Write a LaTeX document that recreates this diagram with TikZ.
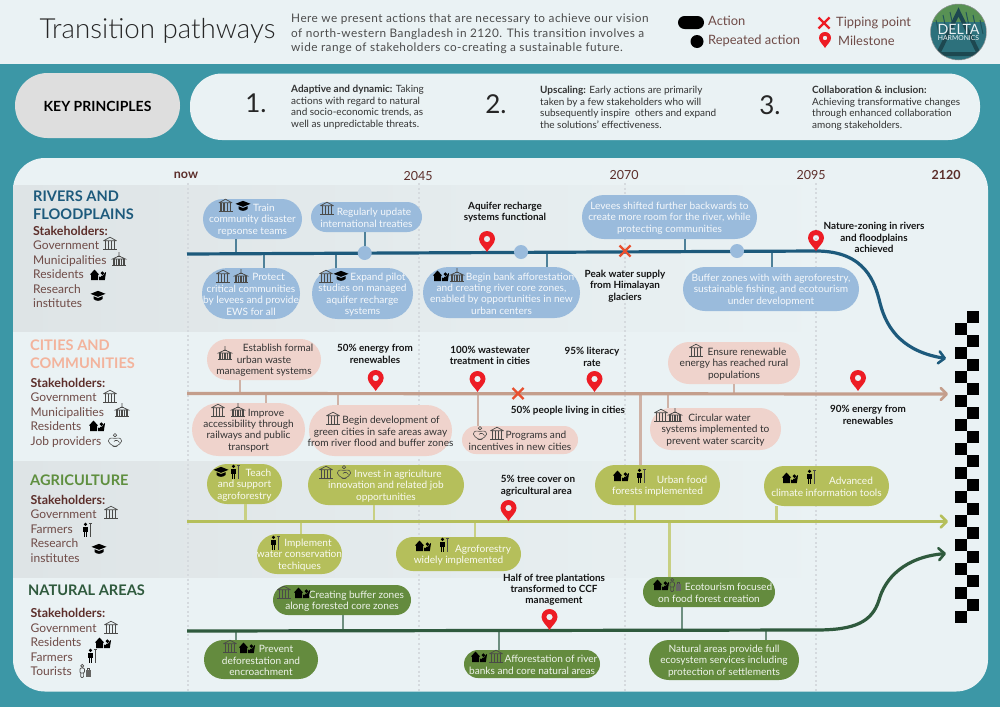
\documentclass[tikz,border=0pt]{standalone}
\usepackage{fontspec}
\setmainfont{Lato}
\newfontfamily\titlefont{Lato Light}
\usetikzlibrary{arrows.meta,calc}
\definecolor{panel}{HTML}{EAF2F4}
\definecolor{teal}{HTML}{3C97A6}
\definecolor{band}{HTML}{DEE4E6}
\definecolor{keygrey}{HTML}{DEDEDE}
\definecolor{brownd}{HTML}{5C2E2A}
\definecolor{brownl}{HTML}{6F4B47}
\definecolor{riverc}{HTML}{1D5A7C}
\definecolor{rivers}{HTML}{4F8199}
\definecolor{riverp}{HTML}{9ABBDC}
\definecolor{cityc}{HTML}{C49E8C}
\definecolor{citys}{HTML}{CFB2A6}
\definecolor{cityp}{HTML}{EFD3CC}
\definecolor{cityh}{HTML}{F3B39C}
\definecolor{agric}{HTML}{B5BF5B}
\definecolor{agris}{HTML}{C8D083}
\definecolor{agrih}{HTML}{5F8F3F}
\definecolor{natc}{HTML}{2F5A3D}
\definecolor{nats}{HTML}{6E8F80}
\definecolor{natp}{HTML}{648B3E}
\definecolor{pinred}{HTML}{ED1C24}
\definecolor{crossc}{HTML}{E8502F}
\definecolor{dotc}{HTML}{D5DADE}
\definecolor{icong}{HTML}{4A4A48}
\newcommand\pillnode[7]{%
  \pgfmathsetmacro\pillw{#3-#2}\pgfmathsetmacro\pillh{#5-#4}\pgfmathsetmacro\pillr{(#5-#4)/2}%
  \node[#6,minimum width=\pillw pt,minimum height=\pillh pt,rounded corners=\pillr pt] (#1) at ({(#2+#3)/2},{(#4+#5)/2}) {};
  \node[#6,fill=none,yshift=-1pt] (#1t) at (#1.center) {#7};}
\newcommand\ind[1]{\hspace*{#1pt}}
\tikzset{
  pillbase/.style={rectangle,inner sep=0pt,align=center,font=\fontsize{10.1}{11.4}\selectfont},
  rpill/.style={pillbase,fill=riverp,text=white!90!riverp},
  cpill/.style={pillbase,fill=cityp,text=black!80},
  apill/.style={pillbase,fill=agric,text=white!92!agric},
  npill/.style={pillbase,fill=natp,text=white!90!natp},
  rstem/.style={draw=rivers,line width=2.4pt},
  cstem/.style={draw=citys,line width=2.4pt},
  astem/.style={draw=agris,line width=2.4pt},
  nstem/.style={draw=nats,line width=2.4pt},
  mainline/.style={line width=3.2pt},
  chev/.style={-{Straight Barb[length=6pt,width=12pt,line width=2.6pt,round]}},
  repeatdot/.style={circle,fill=riverp,minimum size=14pt,inner sep=0pt},
  ytick/.style={font=\fontsize{12.5}{14}\selectfont,text=brownd},
  ybold/.style={font=\fontsize{12.5}{14}\bfseries\selectfont,text=brownd},
  gridline/.style={draw=dotc,line width=2pt,dash pattern=on 2pt off 2.6pt},
  mlabel/.style={font=\fontsize{9.9}{11.4}\bfseries\selectfont,align=center,text=black!92,inner sep=0pt,yshift=-.7pt},
  head/.style={anchor=mid west,font=\fontsize{14.6}{18}\bfseries\selectfont,inner sep=0pt,yshift=-3.5pt},
  shead/.style={anchor=mid west,font=\fontsize{12.4}{14}\bfseries\selectfont,text=brownd,inner sep=0pt,yshift=-2pt},
  sitem/.style={anchor=mid west,font=\fontsize{12}{14}\selectfont,text=brownl,inner sep=0pt,yshift=-2pt},
  ptext/.style={anchor=north west,align=left,inner sep=0pt,font=\fontsize{10}{11.4}\selectfont,text=black!80,yshift=-.8pt},
  pnum/.style={font=\fontsize{26}{28}\selectfont,text=black!85,inner sep=0pt},
  legendt/.style={anchor=mid west,font=\fontsize{12.9}{14}\selectfont,text=brownl,inner sep=0pt,yshift=-1.5pt},
  pin/.pic={\fill[pinred,even odd rule] (0,0) .. controls (-2,-4) and (-8,-8) .. (-8,-13) .. controls (-8,-17.5) and (-4.4,-21) .. (0,-21) .. controls (4.4,-21) and (8,-17.5) .. (8,-13) .. controls (8,-8) and (2,-4) .. (0,0) -- cycle (0,-13) circle (3.2);},
  smallpin/.pic={\fill[pinred,even odd rule] (0,0) .. controls (-1.5,-3) and (-6,-6) .. (-6,-10) .. controls (-6,-13.5) and (-3.3,-16) .. (0,-16) .. controls (3.3,-16) and (6,-13.5) .. (6,-10) .. controls (6,-6) and (1.5,-3) .. (0,0) -- cycle (0,-10) circle (2.3);},
  xmark/.pic={\draw[crossc,line width=2.3pt] (-5.5,-5.5) -- (5.5,5.5) (-5.5,5.5) -- (5.5,-5.5);},
  redx/.pic={\draw[pinred,line width=2.4pt] (-5.5,-5.5) -- (5.5,5.5) (-5.5,5.5) -- (5.5,-5.5);},
  gov/.pic={\draw[icong,line width=.7pt,line join=round] (-6.5,-3.2) -- (0,-6.8) -- (6.5,-3.2) -- cycle;
    \draw[icong,line width=1.2pt] (-4.6,-2.6) -- (-4.6,4.6) (-1.6,-2.6) -- (-1.6,4.6) (1.6,-2.6) -- (1.6,4.6) (4.6,-2.6) -- (4.6,4.6);
    \draw[icong,line width=1pt] (-7,5.6) -- (7,5.6);},
  muni/.pic={\draw[icong,line width=.7pt] (-6.5,-1) -- (0,-4) -- (6.5,-1) -- cycle (0,-4) -- (0,-8);
    \fill[icong] (-2,-4.5) rectangle (2,-3);
    \draw[icong,line width=1.1pt] (-5,-.6) -- (-5,4.6) (-2.5,-.6) -- (-2.5,4.6) (0,-.6) -- (0,4.6) (2.5,-.6) -- (2.5,4.6) (5,-.6) -- (5,4.6);
    \draw[icong,line width=1.2pt] (-7,5.6) -- (7,5.6);},
  cap/.pic={\fill[black] (-7.5,-2.2) -- (0,-5.2) -- (7.5,-2.2) -- (0,.8) -- cycle;
    \fill[black] (-4.5,.2) -- (0,2) -- (4.5,.2) -- (4.5,3) .. controls (2,5.4) and (-2,5.4) .. (-4.5,3) -- cycle;},
  res/.pic={\fill[black] (-8,-.5) -- (-3.5,-5.5) -- (1,-.5) -- (0,-.5) -- (0,5) -- (-7,5) -- (-7,-.5) -- cycle;
    \fill[black] (4.4,-1.8) circle (1.9);
    \fill[black] (1,5) -- (1,1.5) -- (2.5,2.2) -- (3.6,.6) -- (5,.6) -- (7.5,-3) -- (8,-2.4) -- (6.8,5) -- cycle;},
  farmer/.pic={\fill[black] (-1.5,-5.6) circle (1.7);
    \fill[black] (-4.4,-3.4) rectangle (1.4,1.6);\fill[black] (-3.4,1.6) rectangle (-1.8,7.4);\fill[black] (-1.2,1.6) rectangle (.4,7.4);
    \draw[icong,line width=.8pt] (3.6,-7) -- (3.6,7.4) (1.8,-7) -- (5.4,-7);},
  hand/.pic={\draw[icong,line width=.6pt,rounded corners=1.5pt] (-7,-1.5) -- (-3,-3.5) -- (0,-2) -- (3,-3.5) -- (7,-1.5) -- (6,2) -- (1,5.5) -- (-1,5.5) -- (-6,2) -- cycle (-1,.5) -- (1.5,-1.5) -- (4.5,1.5);
    \draw[icong,line width=.6pt] (0,-5.8) circle (1.7);},
  tourist/.pic={\draw[icong,line width=.7pt] (-2.8,-5.2) circle (1.5);
    \draw[icong,line width=.7pt,rounded corners=1pt] (-5,-3) rectangle (-.6,2) (-4.2,2) -- (-4.2,6.6) -- (-1.4,6.6) -- (-1.4,2);
    \fill[icong!85] (1,-.8) rectangle (6,6.4);\draw[icong,line width=.6pt] (2.5,-.8) -- (2.5,-2.4) -- (4.5,-2.4) -- (4.5,-.8);},
}
\begin{document}
\begin{tikzpicture}[x=1pt,y=-1pt]
\useasboundingbox (0,0) rectangle (1000,707);
% ---- backgrounds
\fill[panel] (0,0) rectangle (1000,64);
\fill[teal] (0,64) rectangle (1000,707);
\fill[panel,rounded corners=32pt] (13,158) rectangle (988,691.5);
\shade[left color=band,right color=panel] (13,185) rectangle (830,331.5);
\shade[left color=band,right color=panel] (13,461.5) rectangle (830,577);
% ---- header
\node[font=\titlefont\fontsize{27.7}{32}\selectfont,text=black!85,inner sep=0pt] (title) at (157.5,30.5) {Transition pathways};
\node[anchor=north west,align=left,inner sep=0pt,font=\addfontfeatures{LetterSpace=4}\fontsize{11.8}{14.5}\selectfont,text=black!70] (intro) at (291,14) {Here we present actions that are necessary to achieve our vision\\of north-western Bangladesh in 2120. This transition involves a\\wide range of stakeholders co-creating a sustainable future.};
\node[fill=black,minimum width=26pt,minimum height=13pt,rounded corners=6.5pt,inner sep=0pt] (lga) at (691,22.5) {};
\node[legendt] (lgat) at (708,21.5) {Action};
\node[circle,fill=black,minimum size=13pt,inner sep=0pt] (lgr) at (697,41.5) {};
\node[legendt] (lgrt) at (708,40) {Repeated action};
\pic at (824,23) {redx};
\node[legendt] (lgxt) at (836,22.5) {Tipping point};
\pic at (825,48) {smallpin};
\node[legendt] (lgmt) at (838,41) {Milestone};
% logo
\begin{scope}
  \clip (958.5,32) circle (28);
  \fill[teal!75!black] (930,4) rectangle (987,60);
  \fill[agrih!80!teal] (930,4) rectangle (987,22);
  \foreach \lx/\ly in {936/20,943/15,950/12,966/12,973/15,980/20}{\draw[teal!55!black,line width=1pt] (\lx,\ly) -- (\lx+3,\ly+14);}
  \draw[black!20!teal!60!black,line width=4pt] (958.5,12) -- (938,54) -- (979,54) -- cycle;
\end{scope}
\draw[black!40,line width=.5pt] (958.5,32) circle (28);
\node[font=\fontsize{14.2}{15}\selectfont,text=panel,inner sep=0pt] (logod) at (958.5,29) {DELTA};
\node[font=\fontsize{6.8}{7}\selectfont,text=panel!80,inner sep=0pt] (logoh) at (958.5,38.5) {HARMONICS};
% ---- key principles
\pillnode{kp}{15}{180}{73}{138}{pillbase,fill=keygrey,text=black,font=\fontsize{14}{16}\bfseries\selectfont}{KEY PRINCIPLES}
\fill[panel,rounded corners=32pt] (190,73.5) rectangle (980,140);
\node[pnum] (n1) at (256,103.5) {1.};
\node[ptext] (p1) at (291,84.5) {\textbf{Adaptive and dynamic:} Taking\\actions with regard to natural\\and socio-economic trends, as\\well as unpredictable threats.};
\node[pnum] (n2) at (496,104) {2.};
\node[ptext] (p2) at (540,85.5) {\textbf{Upscaling:} Early actions are primarily\\taken by a few stakeholders who will\\subsequently inspire\ \ others and expand\\the solutions’ effectiveness.};
\node[pnum] (n3) at (770,105) {3.};
\node[ptext] (p3) at (812,85.5) {\textbf{Collaboration \& inclusion:}\\Achieving transformative changes\\through enhanced collaboration\\among stakeholders.};
% ---- time grid
\foreach \gx in {188,419,625,816}{\draw[gridline] (\gx,183) -- (\gx,691);}
\node[ybold] (ynow) at (186,175) {now};
\node[ytick] (y45) at (418,176) {2045};
\node[ytick] (y70) at (624,175) {2070};
\node[ytick] (y95) at (811,175) {2095};
\node[ybold] (y20) at (946,175) {2120};
% ---- finish flag
\foreach \k in {0,...,12}{
  \fill[black] (955.3,323+24*\k) rectangle +(12,12);
  \fill[black] (967.3,311+24*\k) rectangle +(12,12);
}
\coordinate (finR) at (946,358.5);
\coordinate (finC) at (948,394);
\coordinate (finA) at (948,521.5);
\coordinate (finN) at (946,553.5);
% ---- left labels
\node[head,text=riverc] (hr1) at (33,195) {RIVERS AND};
\node[head,text=riverc] (hr2) at (33,213) {FLOODPLAINS};
\node[shead] (sr0) at (33,231) {Stakeholders:};
\node[sitem] (sr1) at (33,245) {Government};
\node[sitem] (sr2) at (33,259.5) {Municipalities};
\node[sitem] (sr3) at (33,274) {Residents};
\node[sitem] (sr4) at (33,289) {Research};
\node[sitem] (sr5) at (33,303) {institutes};
\pic at (110,244) {gov};\pic at (119,260) {muni};\pic at (98,275) {res};\pic at (98,296) {cap};
\node[head,text=cityh] (hc1) at (30,344) {CITIES AND};
\node[head,text=cityh] (hc2) at (30,362) {COMMUNITIES};
\node[shead] (sc0) at (30.5,383) {Stakeholders:};
\node[sitem] (sc1) at (30.5,397) {Government};
\node[sitem] (sc2) at (30.5,411.5) {Municipalities};
\node[sitem] (sc3) at (30.5,426) {Residents};
\node[sitem] (sc4) at (30.5,440.5) {Job providers};
\pic at (110,397) {gov};\pic at (122,411) {muni};\pic at (97,426) {res};\pic at (115,441) {hand};
\node[head,text=agrih] (ha1) at (30,479) {AGRICULTURE};
\node[shead] (sa0) at (30.5,499.5) {Stakeholders:};
\node[sitem] (sa1) at (30.5,514) {Government};
\node[sitem] (sa2) at (30.5,528.5) {Farmers};
\node[sitem] (sa3) at (30.5,543) {Research};
\node[sitem] (sa4) at (30.5,557.5) {institutes};
\pic at (111,513) {gov};\pic at (87,530) {farmer};\pic at (99,549) {cap};
\node[head,text=natc] (hn1) at (28,589) {NATURAL AREAS};
\node[shead] (sn0) at (30.5,613) {Stakeholders:};
\node[sitem] (sn1) at (30.5,628) {Government};
\node[sitem] (sn2) at (30.5,642) {Residents};
\node[sitem] (sn3) at (30.5,657) {Farmers};
\node[sitem] (sn4) at (30.5,671) {Tourists};
\pic at (111,628) {gov};\pic at (103,643) {res};\pic at (92,656) {farmer};\pic at (85,671) {tourist};
% ---- rivers pills
\pillnode{r1}{203}{302}{199}{239}{rpill}{\ind{23}Train\\community disaster\\repsonse teams}
\pillnode{r2}{202}{300}{268}{319}{rpill}{\ind{35}Protect\\critical communities\\by levees and provide\\EWS for all}
\pillnode{r3}{311}{422}{202}{232}{rpill}{\ind{15}Regularly update\\international treaties}
\pillnode{r4}{312}{413}{268}{319}{rpill}{\ind{31}Expand pilot\\studies on managed\\aquifer recharge\\systems}
\pillnode{r5}{423}{580}{267}{318}{rpill}{\ind{37}Begin bank afforestation\\and creating river core zones,\\enabled by opportunities in new\\urban centers}
\pillnode{r6}{582}{757}{195}{239}{rpill}{Levees shifted further backwards to\\create more room for the river, while\\protecting communities}
\pillnode{r7}{683}{859}{267}{311}{rpill}{Buffer zones with with agroforestry,\\sustainable fishing, and ecotourism\\under development}
\coordinate (ra) at (236,254);\coordinate (rb) at (264,254);\coordinate (rc) at (336,253);\coordinate (rd) at (364.7,253);
\coordinate (re) at (547,252);\coordinate (rf) at (685,251);\coordinate (rg) at (772,251);
\draw[rstem] (ra |- r1.south) -- (ra);
\draw[rstem] (rb |- r2.north) -- (rb);
\draw[rstem] (rc |- r4.north) -- (rc);
\draw[rstem] (rd |- r3.south) -- (rd);
\draw[rstem] (re |- r5.north) -- (re);
\draw[rstem] (rf |- r6.south) -- (rf);
\draw[rstem] (rg |- r7.north) -- (rg);
\coordinate (rstart) at (187,254);\coordinate (rmid) at (816,251);
\draw[mainline,riverc,chev] (rstart) -- (rmid) .. controls (866,251) and (875,283) .. (880,303) .. controls (887,331) and (905,352) .. (finR);
\node[repeatdot] (rd1) at (rd) {};
\node[repeatdot] (rd2) at (521,252) {};
\node[repeatdot] (rd3) at (737,251) {};
\pic at (487,252) {pin};
\pic at (816,251) {pin};
\pic at (625,251) {xmark};
\node[mlabel] (ml1) at (505,211.5) {Aquifer recharge\\systems functional};
\node[mlabel] (ml2) at (625,285.5) {Peak water supply\\from Himalayan\\glaciers};
\node[mlabel] (ml3) at (874,237) {Nature-zoning in rivers\\and floodplains\\achieved};
\pic at (225.5,206) {gov};\pic at (243,206) {cap};
\pic at (223,277) {gov};\pic at (241,277) {muni};
\pic at (327,209) {gov};
\pic at (326,277) {gov};\pic at (341,276) {cap};
\pic at (441,276) {res};\pic at (457,276) {muni};
% ---- cities pills
\pillnode{c1}{207}{321}{339}{380}{cpill}{\ind{28}Establish formal\\urban waste\\management systems}
\pillnode{c2}{192}{305}{403}{456}{cpill}{\ind{35}Improve\\accessibility through\\railways and public\\transport}
\pillnode{c3}{309}{452}{405}{456}{cpill}{\ind{21}Begin development of\\green cities in safe areas away\\from river flood and buffer zones}
\pillnode{c4}{462}{578}{426}{454}{cpill}{\ind{32}Programs and\\incentives in new cities}
\pillnode{c5}{650}{781}{408}{450}{cpill}{\ind{8}Circular water\\systems implemented to\\prevent water scarcity}
\pillnode{c6}{668}{800}{342}{384}{cpill}{\ind{26}Ensure renewable\\energy has reached rural\\populations}
% ---- agriculture pills
\pillnode{a1}{207}{282}{464}{504}{apill}{\ind{28}Teach\\and support\\agroforestry}
\pillnode{a2}{308}{464}{465}{505}{apill}{\ind{24}Invest in agriculture\\innovation and related job\\opportunities}
\pillnode{a3}{257}{342}{534}{574}{apill}{\ind{17}Implement\\water conservation\\techiques}
\pillnode{a4}{396}{521}{537}{571}{apill}{\ind{49}Agroforestry\\widely implemented}
\pillnode{a5}{595}{720}{465}{505}{apill}{\ind{49}Urban food\\forests implemented}
\pillnode{a6}{764}{889}{466}{506}{apill}{\ind{49}Advanced\\climate information tools}
\coordinate (ca) at (240,393.5);\coordinate (cb) at (266,393.5);\coordinate (cc) at (338,393.5);\coordinate (cd) at (478,393.5);
\coordinate (ce) at (640.5,393.5);\coordinate (cf) at (668,393.5);\coordinate (cg) at (734,393.5);
\draw[cstem] (ca |- c1.south) -- (ca);
\draw[cstem] (cb |- c2.north) -- (cb);
\draw[cstem] (cc |- c3.north) -- (cc);
\draw[cstem] (cd |- c4.north) -- (cd);
\draw[cstem] (ce |- a5.north) -- (ce);
\draw[cstem] (cf |- c5.north) -- (cf);
\draw[cstem] (cg |- c6.south) -- (cg);
\coordinate (cstart) at (187,393.5);
\draw[mainline,cityc,chev] (cstart) -- (finC);
\pic at (375.7,391) {pin};\pic at (477.5,392) {pin};\pic at (594.5,392) {pin};\pic at (858,391) {pin};
\pic at (518,393.5) {xmark};
\node[mlabel] (mc1) at (375,353) {50\% energy from\\renewables};
\node[mlabel] (mc2) at (490,354.5) {100\% wastewater\\treatment in cities};
\node[mlabel] (mc3) at (592,356) {95\% literacy\\rate};
\node[mlabel] (mc4) at (568,410) {50\% people living in cities};
\node[mlabel] (mc5) at (868,414) {90\% energy from\\renewables};
\pic at (225,354) {muni};
\pic at (218,411) {gov};\pic at (238,411) {muni};
\pic at (333,419) {gov};
\pic at (480,434) {hand};\pic at (497,434) {gov};
\pic at (661,416) {gov};\pic at (675,416) {muni};
\pic at (696,351) {gov};
% ---- natural pills
\pillnode{n1}{273}{411}{585}{615}{npill}{\ind{29}Creating buffer zones\\along forested core zones}
\pillnode{n2}{204}{318}{640}{679}{npill}{\ind{30}Prevent\\deforestation and\\encroachment}
\pillnode{n3}{464}{600}{650}{678}{npill}{\ind{38}Afforestation of river\\banks and core natural areas}
\pillnode{n4}{643}{775}{577}{607}{npill}{\ind{39}Ecotourism focused\\on food forest creation}
\pillnode{n5}{649}{799}{640}{680}{npill}{Natural areas provide full\\ecosystem services including\\protection of settlements}
\coordinate (aa) at (245.5,521.5);\coordinate (ab) at (301,521.5);\coordinate (ac) at (374,521.5);\coordinate (ad) at (475,521.5);
\coordinate (ae) at (635,521.5);\coordinate (af) at (669.5,521.5);\coordinate (ag) at (776.5,521.5);
\draw[astem] (aa |- a1.south) -- (aa);
\draw[astem] (ab |- a3.north) -- (ab);
\draw[astem] (ac |- a2.south) -- (ac);
\draw[astem] (ad |- a4.north) -- (ad);
\draw[astem] (ae |- a5.south) -- (ae);
\draw[astem] (af |- n4.north) -- (af);
\draw[astem] (ag |- a6.south) -- (ag);
\coordinate (astart) at (187,521.5);
\draw[mainline,agric,chev] (astart) -- (finA);
\pic at (508.5,521) {pin};
\node[mlabel,align=left] (ma1) at (538,485) {5\% tree cover on\\agricultural area};
\pic at (221,472) {cap};\pic at (235,472) {farmer};
\pic at (326,473) {gov};\pic at (344,473) {hand};
\pic at (275,543) {farmer};
\pic at (423,546) {res};\pic at (444,545) {farmer};
\pic at (621,476) {res};\pic at (641,476) {farmer};
\pic at (790,478) {res};\pic at (811,477) {farmer};
\coordinate (na) at (236,631);\coordinate (nb) at (343,631);\coordinate (nc) at (499,631);\coordinate (nd) at (682,630.5);\coordinate (ne) at (766,630);
\draw[nstem] (na |- n2.north) -- (na);
\draw[nstem] (nb |- n1.south) -- (nb);
\draw[nstem] (nc |- n3.north) -- (nc);
\draw[nstem] (nd |- n4.south) -- (nd);
\draw[nstem] (ne |- n5.north) -- (ne);
\coordinate (nstart) at (187,631);\coordinate (nmid) at (816,630);
\draw[mainline,natc,chev] (nstart) -- (nmid) .. controls (855,630) and (872,622) .. (879,600) .. controls (885,578) and (905,557) .. (finN);
\pic at (549.5,630) {pin};
\node[mlabel] (mn1) at (554,589) {Half of tree plantations\\transformed to CCF\\management};
\pic at (284,593) {gov};\pic at (302,593) {res};
\pic at (230,647) {gov};\pic at (247,648) {res};
\pic at (479,657) {res};\pic at (496,657) {gov};
\pic at (661,585) {res};\pic at (675,585) {tourist};
\end{tikzpicture}
\end{document}
